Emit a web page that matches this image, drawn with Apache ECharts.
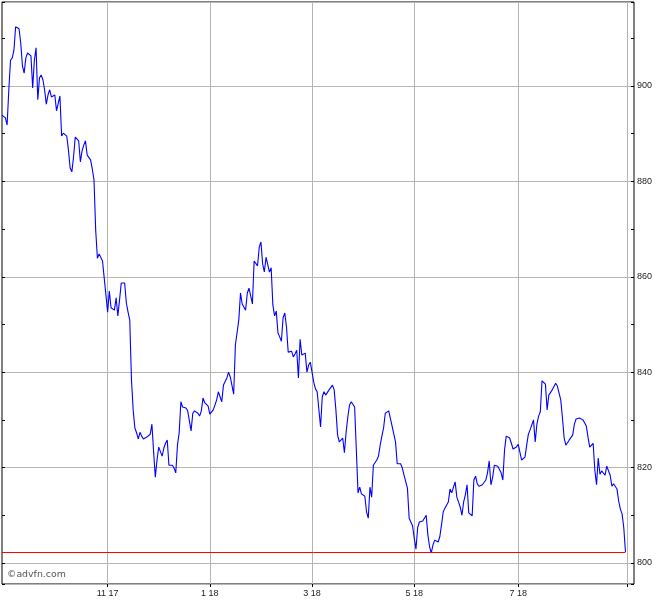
<!DOCTYPE html>
<html lang="en">
<head>
    <meta charset="UTF-8">
    <title>advfn chart</title>
    <script src="https://cdn.jsdelivr.net/npm/echarts@6/dist/echarts.min.js"></script>
    <style>
        body {margin: 0; background: #fff;}
        #main {width: 670px; height: 600px;}
    </style>
</head>
<body>
<div id="main"></div>
<script>
    // daily closes (one per slot)
    var closes = [
        893.9, 893.7, 893.3, 891.8, 899.2, 905.4, 905.9, 907.5, 912.4, 912.4,
        912.0, 909.0, 904.2, 902.7, 905.9, 906.9, 906.9, 906.3, 899.6, 905.4,
        908.0, 897.1, 901.7, 902.3, 901.3, 899.2, 896.2, 898.1, 899.2, 897.7,
        897.5, 898.1, 894.8, 894.8, 897.9, 889.5, 890.1, 889.9, 889.5, 886.6,
        882.8, 882.0, 885.1, 889.3, 889.3, 888.5, 884.1, 886.4, 887.6, 888.5,
        885.5, 885.3, 884.5, 882.6, 880.3, 869.8, 863.9, 864.8, 864.6, 863.3,
        863.1, 856.2, 852.6, 857.0, 853.5, 853.5, 853.0, 855.6, 851.8, 855.1,
        858.7, 858.7, 858.7, 854.5, 852.6, 850.9, 838.4, 832.1, 828.3, 827.3,
        826.0, 827.4, 826.6, 826.0, 826.2, 826.4, 826.0, 827.0, 829.1, 823.3,
        818.0, 821.6, 824.3, 824.3, 822.4, 824.1, 825.1, 825.8, 820.5, 820.8,
        820.5, 819.9, 818.9, 824.7, 827.3, 833.8, 832.7, 832.5, 832.5, 831.9,
        829.8, 827.7, 831.4, 831.9, 831.7, 831.4, 830.8, 831.9, 834.6, 833.6,
        833.3, 832.9, 831.2, 831.2, 832.1, 833.1, 834.2, 835.9, 835.9, 833.8,
        837.3, 837.3, 838.8, 840.0, 839.0, 839.0, 835.4, 845.7, 845.9, 850.9,
        856.6, 854.3, 853.9, 853.0, 856.6, 857.6, 857.2, 854.3, 863.3, 863.3,
        862.3, 866.2, 867.3, 862.7, 861.0, 864.1, 864.1, 861.0, 861.9, 854.1,
        851.8, 852.8, 848.2, 847.4, 846.5, 851.4, 852.4, 849.5, 844.2, 844.4,
        844.4, 843.2, 843.8, 844.6, 838.8, 846.9, 843.6, 843.4, 844.0, 840.0,
        841.5, 842.1, 840.0, 837.9, 836.5, 835.9, 836.0, 828.5, 834.8, 835.9,
        835.2, 835.4, 836.3, 836.7, 837.3, 836.3, 832.1, 826.8, 825.4, 825.4,
        826.2, 823.1, 827.4, 830.6, 833.1, 833.8, 833.8, 832.7, 823.7, 814.7,
        815.9, 814.5, 814.9, 814.0, 810.7, 809.4, 815.9, 813.8, 820.5, 820.8,
        821.6, 822.4, 824.7, 826.6, 828.3, 831.4, 831.4, 831.9, 832.1, 828.7,
        828.9, 825.4, 820.8, 820.5, 820.8, 819.9, 818.4, 818.4, 815.7, 809.4,
        808.6, 807.8, 805.2, 802.9, 807.4, 808.6, 809.0, 808.8, 808.8, 810.0,
        805.9, 803.4, 802.1, 803.8, 804.8, 804.6, 804.4, 805.5, 808.0, 810.7,
        811.5, 811.5, 812.8, 815.5, 814.7, 814.3, 817.0, 813.8, 813.6, 811.7,
        810.0, 812.8, 814.3, 816.4, 810.5, 810.3, 809.9, 817.4, 818.2, 816.6,
        816.1, 816.4, 816.4, 816.4, 817.4, 818.9, 821.4, 816.4, 817.9, 820.5,
        820.8, 820.3, 820.1, 818.9, 817.4, 823.7, 826.6, 826.2, 826.2, 825.1,
        823.9, 823.9, 824.3, 824.9, 824.7, 821.6, 821.2, 822.2, 824.7, 827.0,
        827.9, 827.7, 830.0, 825.4, 829.1, 830.8, 831.7, 838.2, 838.4, 837.5,
        832.1, 835.2, 835.4, 836.3, 836.7, 837.7, 837.1, 836.9, 834.2, 830.4,
        826.2, 824.7, 824.7, 825.8, 825.8, 826.8, 829.1, 830.2, 830.4, 830.4,
        830.8, 830.0, 829.4, 828.7, 826.4, 824.3, 824.3, 825.1, 819.5, 816.4,
        822.0, 818.6, 819.3, 818.9, 818.4, 820.3, 820.5, 818.4, 816.1, 816.6,
        816.4, 815.5, 813.0, 811.3, 810.3, 807.4, 802.3
    ];
    // month marks on the time axis (slot index -> text)
    var markSlots = [62, 122, 182, 242, 303, 367];
    var markTexts = ['11 17', '1 18', '3 18', '5 18', '7 18', ''];
    var slotCount = 372;

    var yMin = 795.6, yMax = 917.6;

    var slots = [];
    for (var i = 0; i < slotCount; i++) {
        var k = markSlots.indexOf(i);
        slots.push(k >= 0 ? markTexts[k] : '');
    }
    var isMark = function (idx) {
        return markSlots.indexOf(idx) >= 0;
    };
    var lastIdx = closes.length - 1;
    var lastClose = closes[lastIdx];

    var myChart = echarts.init(document.getElementById('main'));
    var option = {
        animation: false,
        backgroundColor: '#fff',
        textStyle: {fontFamily: 'Liberation Sans'},
        grid: {
            left: 2, right: 36, top: 2, bottom: 16,
            show: true, borderColor: '#000', borderWidth: 1, backgroundColor: '#fff'
        },
        graphic: [{
            type: 'text', left: 7, top: 570,
            style: {text: '\u00a9advfn.com', fill: '#555', font: '9.4px "DejaVu Sans"'}
        }],
        xAxis: {
            type: 'category',
            data: slots,
            boundaryGap: false,
            axisLine: {show: false},
            axisTick: {
                show: true, interval: isMark, length: 3,
                lineStyle: {color: '#000'}
            },
            axisLabel: {
                interval: isMark, margin: 5, color: '#222', fontSize: 9,
                fontFamily: 'Liberation Sans'
            },
            splitLine: {
                show: true, interval: isMark,
                lineStyle: {color: '#b4b4b4', width: 1}
            }
        },
        yAxis: [{
            type: 'value', position: 'left', min: yMin, max: yMax,
            minInterval: 20, maxInterval: 20,
            axisLine: {show: false},
            axisTick: {show: true, inside: true, length: 3, lineStyle: {color: '#000'}},
            minorTick: {show: true, splitNumber: 2, length: 3, lineStyle: {color: '#000'}},
            axisLabel: {show: false},
            splitLine: {show: false}
        }, {
            type: 'value', position: 'right', min: yMin, max: yMax,
            minInterval: 20, maxInterval: 20,
            axisLine: {show: false},
            axisTick: {show: true, inside: true, length: 3, lineStyle: {color: '#000'}},
            minorTick: {show: true, splitNumber: 2, length: 3, lineStyle: {color: '#000'}},
            axisLabel: {
                margin: 3, color: '#222', fontSize: 9, fontFamily: 'Liberation Sans',
                showMinLabel: false, showMaxLabel: false
            },
            splitLine: {show: true, lineStyle: {color: '#b8b8ac', width: 1}}
        }],
        series: [{
            type: 'line',
            yAxisIndex: 1,
            data: closes,
            showSymbol: false,
            smooth: false,
            lineStyle: {color: '#0000ff', width: 1.1},
            markLine: {
                silent: true,
                symbol: 'none',
                label: {show: false},
                lineStyle: {color: '#ff0000', width: 1, type: 'solid'},
                data: [[{coord: [0, lastClose]}, {coord: [lastIdx, lastClose]}]]
            }
        }]
    };
    myChart.setOption(option);
</script>
</body>
</html>
